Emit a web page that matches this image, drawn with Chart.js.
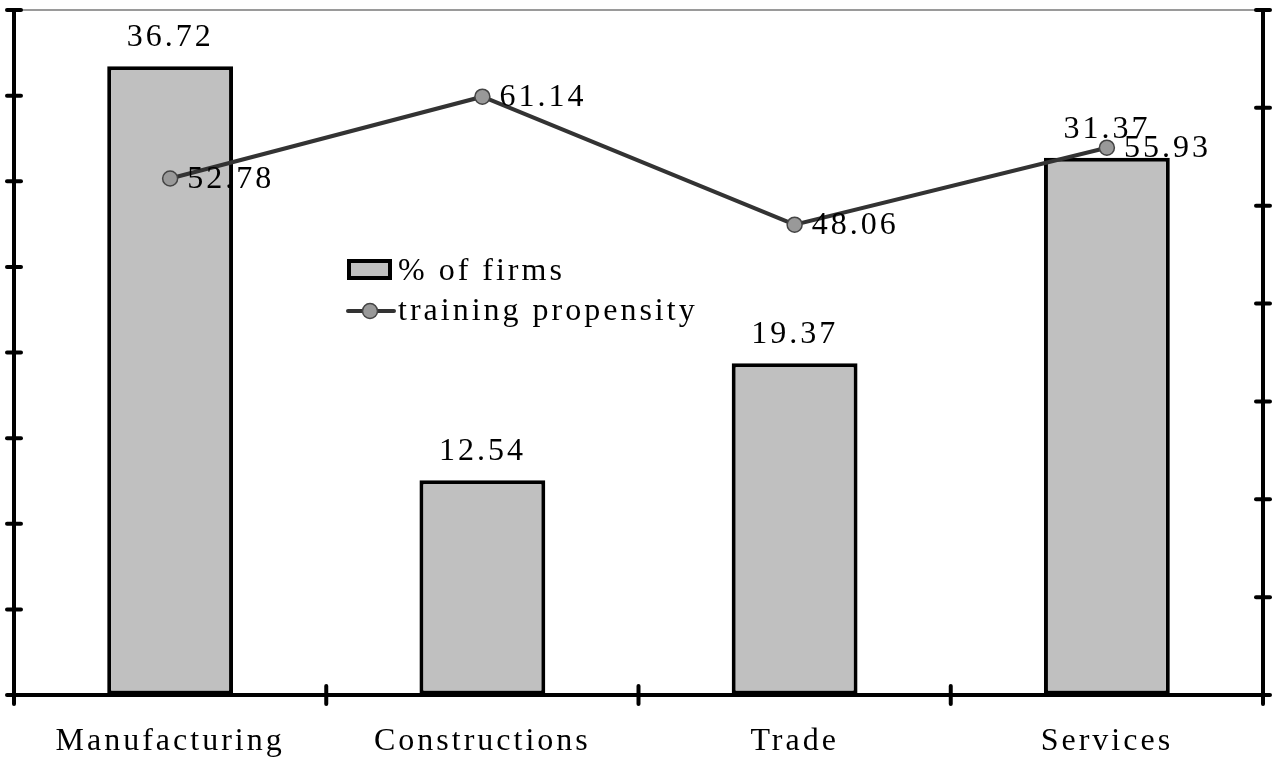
<!DOCTYPE html>
<html>
<head>
<meta charset="utf-8">
<script src="https://cdn.jsdelivr.net/npm/chart.js@4/dist/chart.umd.min.js"></script>
<style>
  html, body { margin: 0; padding: 0; background: #fff; overflow: hidden; }
  canvas { display: block; }
</style>
</head>
<body>
<canvas id="chart" width="1272" height="758"></canvas>
<script>
// Sector breakdown: share of firms (bars, left axis) and training propensity (line, right axis)
const categories = ['Manufacturing', 'Constructions', 'Trade', 'Services'];
const firmShares = [36.72, 12.54, 19.37, 31.37];
const trainingPropensity = [52.78, 61.14, 48.06, 55.93];
const leftAxisRange = [0, 40, 5];    // min, max, step
const rightAxisRange = [0, 70, 10];  // min, max, step

const FONT_FAMILY = "'Liberation Serif', 'DejaVu Serif', serif";
const FONT_SIZE = 32;
const LETTER_SPACING = '3px';

// Crossing tick marks on both value axes and the category axis, plus the thin top frame line
const axisDecor = {
  id: 'axisDecor',
  beforeDraw(chart) {
    chart.ctx.letterSpacing = LETTER_SPACING;
  },
  beforeDatasetsDraw(chart) {
    const { ctx, chartArea } = chart;
    ctx.save();
    // top frame line
    ctx.strokeStyle = '#9a9a9a';
    ctx.lineWidth = 2;
    ctx.beginPath();
    ctx.moveTo(chartArea.left, chartArea.top);
    ctx.lineTo(chartArea.right, chartArea.top);
    ctx.stroke();

    ctx.strokeStyle = '#000';
    ctx.lineWidth = 4;
    ctx.lineCap = 'round';
    const half = 7;
    // value axis ticks
    [['y', chartArea.left], ['y1', chartArea.right]].forEach(([id, x]) => {
      const s = chart.scales[id];
      s.ticks.forEach(t => {
        const y = s.getPixelForValue(t.value);
        ctx.beginPath();
        ctx.moveTo(x - half, y);
        ctx.lineTo(x + half, y);
        ctx.stroke();
      });
    });
    // category boundary ticks
    const xs = chart.scales.x;
    const n = categories.length;
    const step = xs.width / n;
    for (let i = 0; i <= n; i++) {
      const x = i < n ? xs.getPixelForValue(i) - step / 2 : xs.getPixelForValue(n - 1) + step / 2;
      ctx.beginPath();
      ctx.moveTo(x, chartArea.bottom - 9);
      ctx.lineTo(x, chartArea.bottom + 9);
      ctx.stroke();
    }
    ctx.restore();
  },
  afterDatasetDraw(chart, args) {
    const { ctx } = chart;
    const ds = chart.data.datasets[args.index];
    ctx.save();
    ctx.letterSpacing = LETTER_SPACING;
    ctx.font = `${FONT_SIZE}px ${FONT_FAMILY}`;
    ctx.fillStyle = '#000';
    ctx.textBaseline = 'alphabetic';
    args.meta.data.forEach((el, i) => {
      const text = ds.data[i].toFixed(2);
      if (ds.type === 'bar') {
        ctx.textAlign = 'center';
        ctx.fillText(text, el.x, el.y - 20);
      } else {
        ctx.textAlign = 'left';
        ctx.fillText(text, el.x + 17, el.y + 9);
      }
    });
    ctx.restore();
  },
  afterDraw(chart) {
    // legend placed inside the plot area
    const { ctx, chartArea } = chart;
    const x0 = chartArea.left + 333;
    const y0 = chartArea.top + 249;
    const [barDs, lineDs] = [chart.data.datasets[1], chart.data.datasets[0]];
    ctx.save();
    ctx.letterSpacing = LETTER_SPACING;
    ctx.font = `${FONT_SIZE}px ${FONT_FAMILY}`;
    ctx.textAlign = 'left';
    ctx.textBaseline = 'alphabetic';
    // bar swatch
    ctx.fillStyle = barDs.backgroundColor;
    ctx.fillRect(x0, y0, 45, 21);
    ctx.strokeStyle = barDs.borderColor;
    ctx.lineWidth = 4;
    ctx.strokeRect(x0 + 2, y0 + 2, 41, 17);
    ctx.fillStyle = '#000';
    ctx.fillText(barDs.label, x0 + 51, y0 + 21);
    // line swatch
    const ly = y0 + 52;
    ctx.strokeStyle = lineDs.borderColor;
    ctx.lineWidth = 4;
    ctx.lineCap = 'round';
    ctx.beginPath();
    ctx.moveTo(x0 + 1, ly);
    ctx.lineTo(x0 + 47, ly);
    ctx.stroke();
    ctx.beginPath();
    ctx.arc(x0 + 23, ly, 7.5, 0, Math.PI * 2);
    ctx.fillStyle = lineDs.pointBackgroundColor;
    ctx.fill();
    ctx.lineWidth = 1.5;
    ctx.strokeStyle = lineDs.pointBorderColor;
    ctx.stroke();
    ctx.fillStyle = '#000';
    ctx.fillText(lineDs.label, x0 + 51, ly + 9);
    ctx.restore();
  }
};

new Chart(document.getElementById('chart'), {
  data: {
    labels: categories,
    datasets: [
      {
        type: 'line',
        label: 'training propensity',
        data: trainingPropensity,
        yAxisID: 'y1',
        order: 0,
        borderColor: '#333333',
        borderWidth: 4,
        pointRadius: 7.5,
        pointBackgroundColor: '#999999',
        pointBorderColor: '#444444',
        pointBorderWidth: 1.5,
        tension: 0,
        fill: false
      },
      {
        type: 'bar',
        label: '% of firms',
        data: firmShares,
        yAxisID: 'y',
        order: 1,
        backgroundColor: '#c0c0c0',
        borderColor: '#000000',
        borderWidth: 4,
        borderSkipped: false,
        categoryPercentage: 1,
        barPercentage: 0.403
      }
    ]
  },
  options: {
    responsive: false,
    animation: false,
    layout: { padding: { top: 10, left: 0, right: 0, bottom: 0 } },
    plugins: {
      legend: { display: false },
      tooltip: { enabled: false }
    },
    scales: {
      x: {
        type: 'category',
        offset: true,
        grid: { display: true, drawOnChartArea: false, drawTicks: false },
        border: { display: true, color: '#000', width: 4 },
        ticks: {
          color: '#000',
          font: { family: FONT_FAMILY, size: FONT_SIZE },
          padding: 27,
          maxRotation: 0
        },
        afterFit(s) { s.height = 63; }
      },
      y: {
        position: 'left',
        min: leftAxisRange[0],
        max: leftAxisRange[1],
        ticks: { stepSize: leftAxisRange[2], display: false },
        grid: { drawOnChartArea: false, drawTicks: false },
        border: { display: true, color: '#000', width: 4 },
        afterFit(s) { s.width = 14; }
      },
      y1: {
        position: 'right',
        min: rightAxisRange[0],
        max: rightAxisRange[1],
        ticks: { stepSize: rightAxisRange[2], display: false },
        grid: { drawOnChartArea: false, drawTicks: false },
        border: { display: true, color: '#000', width: 4 },
        afterFit(s) { s.width = 6; }
      }
    }
  },
  plugins: [axisDecor]
});
</script>
</body>
</html>
